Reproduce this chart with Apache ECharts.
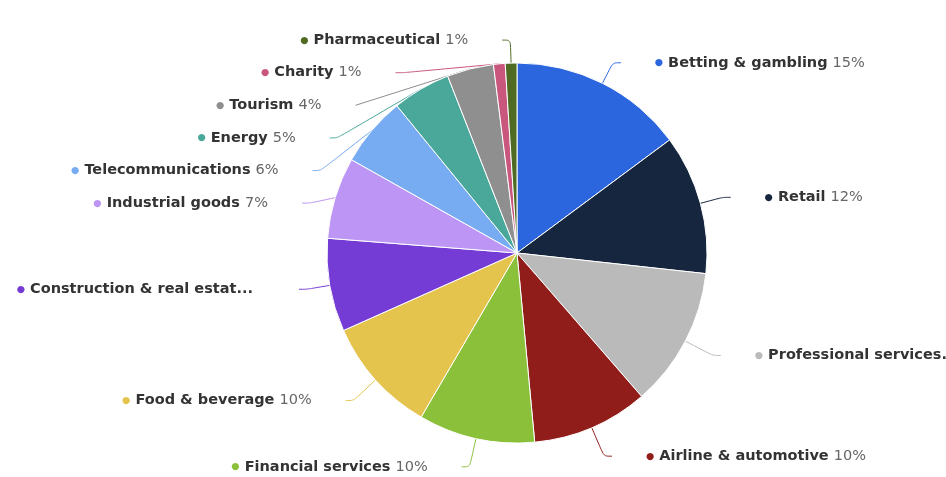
<!DOCTYPE html>
<html>
<head>
<meta charset="utf-8">
<script src="https://cdn.jsdelivr.net/npm/echarts@6/dist/echarts.min.js"></script>
<style>
  html, body { margin: 0; padding: 0; background: #ffffff; }
  #chart { width: 946px; height: 477px; }
</style>
</head>
<body>
<div id="chart"></div>
<script>
// Advertising spend share by industry (percent)
const categories = [
  'Betting & gambling', 'Retail', 'Professional services', 'Airline & automotive',
  'Financial services', 'Food & beverage', 'Construction & real estate',
  'Industrial goods', 'Telecommunications', 'Energy', 'Tourism', 'Charity',
  'Pharmaceutical'
];
const shares = [15, 12, 12, 10, 10, 10, 8, 7, 6, 5, 4, 1, 1];
const sliceColors = [
  '#2b66de', '#15263e', '#bababa', '#901d1a', '#8bc03b', '#e5c44e', '#743bd5',
  '#bc95f5', '#77abf2', '#4aa89a', '#8f8f8f', '#c9567c', '#4f6b23'
];

// Which side of the pie each label sits on (slices start at 12 o'clock, clockwise)
const total = shares.reduce((a, b) => a + b, 0);
let run = 0;
const onLeft = shares.map(v => {
  const mid = (run + v / 2) / total;
  run += v;
  return mid > 0.5;
});

const FONT = 'DejaVu Sans';
const NAME_FONT = 'bold 14.5px "DejaVu Sans"';
const rich = {
  name: { fontFamily: FONT, fontWeight: 'bold', fontSize: 14.5, color: '#333333' },
  pct: { fontFamily: FONT, fontSize: 14.5, color: '#666666' },
  gap: { fontFamily: FONT, fontSize: 10, width: 34 },
  gapWide: { fontFamily: FONT, fontSize: 10, width: 46 }
};
sliceColors.forEach((c, i) => {
  rich['d' + i] = { fontFamily: FONT, fontSize: 9.5, color: c, padding: [0, 5, 0, 0] };
});

// Long labels are cut to this many pixels of text
const labelMaxWidth = {
  'Construction & real estate': 226,
  'Professional services': 197
};
// Per-slice label styling: connector length and stacking margin
const labelStyleBySlice = {
  'Professional services': { line: 31 },
  'Airline & automotive': { line: 31 },
  'Financial services': { line: 29 },
  'Food & beverage': { line: 31 },
  'Construction & real estate': { wideGap: true },
  'Industrial goods': { stack: true },
  'Telecommunications': { stack: true },
  'Energy': { stack: true },
  'Tourism': { stack: true },
  'Charity': { stack: true },
  'Pharmaceutical': { stack: true }
};

function labelText(p) {
  const pct = p.value + '%';
  let body;
  const maxW = labelMaxWidth[p.name];
  if (maxW) {
    const cut = echarts.format.truncateText(p.name + ' ' + pct, maxW, NAME_FONT, '...')
      .replace(/\s+\.\.\.$/, '...');
    body = `{name|${cut}}`;
  } else {
    body = `{name|${p.name} }{pct|${pct}}`;
  }
  body = `{d${p.dataIndex}|●}` + body;
  const st = labelStyleBySlice[p.name] || {};
  const gap = st.wideGap ? '{gapWide| }' : '{gap| }';
  return onLeft[p.dataIndex] ? body + gap : gap + body;
}

const chart = echarts.init(document.getElementById('chart'), null, { renderer: 'canvas' });
chart.setOption({
  backgroundColor: '#ffffff',
  animation: false,
  series: [{
    type: 'pie',
    center: [517, 253],
    radius: 190,
    startAngle: 90,
    clockwise: true,
    avoidLabelOverlap: true,
    itemStyle: { borderColor: '#ffffff', borderWidth: 1 },
    label: {
      show: true,
      position: 'outer',
      alignTo: 'none',
      distanceToLabelLine: 0,
      bleedMargin: 6,
      overflow: 'none',
      formatter: labelText,
      rich: rich
    },
    labelLine: {
      show: true,
      length: 23,
      length2: 8,
      smooth: 0.3,
      lineStyle: { width: 1 }
    },
    data: categories.map((name, i) => {
      const st = labelStyleBySlice[name] || {};
      const item = {
        name: name,
        value: shares[i],
        itemStyle: { color: sliceColors[i] }
      };
      if (st.stack) item.label = { margin: 17.6, minMargin: 17.6 };
      if (st.line) item.labelLine = { length: st.line };
      return item;
    })
  }]
});
</script>
</body>
</html>
